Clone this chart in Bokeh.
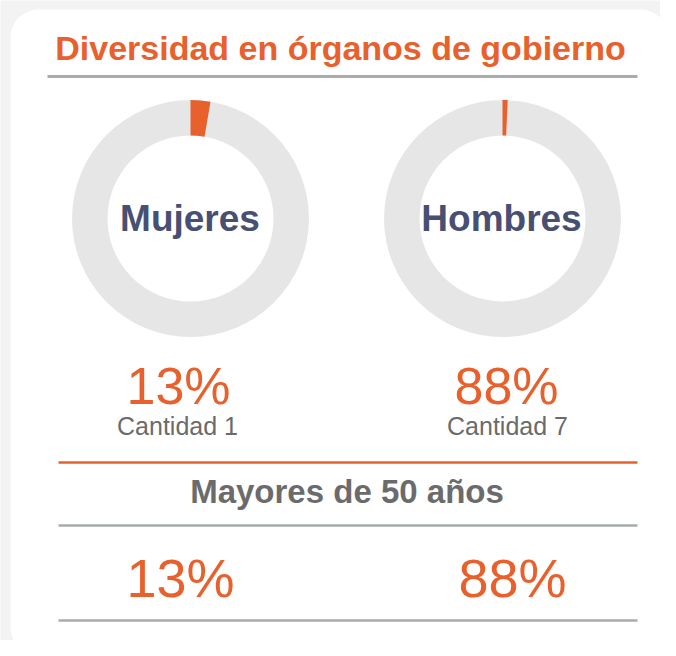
import math
from bokeh.plotting import figure
from bokeh.models import Range1d
from bokeh.embed import file_html
from bokeh.resources import INLINE
from bokeh.core.properties import value

# ---------------- data ----------------
title = "Diversidad en órganos de gobierno"
groups = ["Mujeres", "Hombres"]
share_pct = [13, 88]          # big percentage under each ring
counts = [1, 7]               # "Cantidad" under each percentage
ring_pct = [2.7, 0.7]         # orange slice drawn on each ring (% of full circle)
subtitle = "Mayores de 50 años"
over50_pct = [13, 88]

# ---------------- style ----------------
ORANGE = "#e8602c"
NAVY = "#474f72"
GREY_TXT = "#6b6b6b"
RULE = "#a9acac"
RING = "#e6e6e6"
FONT = "Liberation Sans"
BASE_K = 0.38   # compensation for how the svg backend places the alphabetic baseline

W, H = 660, 640


def sy(v):
    # picture row (from top) -> data y
    return H - v


def by(baseline, size):
    return sy(baseline - BASE_K * size)


p = figure(width=W, height=H, output_backend="svg", toolbar_location=None,
           x_range=Range1d(0, W), y_range=Range1d(0, H),
           min_border=0, min_border_left=0, min_border_right=0,
           min_border_top=0, min_border_bottom=0)
p.axis.visible = False
p.grid.visible = False
p.outline_line_color = None
p.background_fill_color = "#f3f3f3"
p.border_fill_color = "#f3f3f3"

# card
p.quad(left=[10], right=[668], top=[sy(9)], bottom=[sy(655)],
       fill_color="white", line_color=None, border_radius=28)

# title + rule
p.text(x=[340], y=[by(60, 34)], text=[title], text_font=value(FONT),
       text_font_style="bold", text_font_size=value("34px"),
       text_color=ORANGE, text_align="center", text_baseline="alphabetic")
p.segment(x0=[47], y0=[sy(76)], x1=[637], y1=[sy(76)], line_color=RULE, line_width=3)

# rings
cx = [190, 502]
cy = [sy(218)] * 2
R_IN, R_OUT = 83, 118.5
p.annulus(x=cx, y=cy, inner_radius=R_IN, outer_radius=R_OUT,
          fill_color=RING, line_color=None)
start = [math.pi / 2 - 2 * math.pi * v / 100 for v in ring_pct]
end = [math.pi / 2] * len(ring_pct)
p.annular_wedge(x=cx, y=cy, inner_radius=R_IN, outer_radius=R_OUT,
                start_angle=start, end_angle=end,
                fill_color=ORANGE, line_color=None)
p.text(x=[189.5, 501], y=[by(232.5, 37)] * 2, text=groups, text_font=value(FONT),
       text_font_style="bold", text_font_size=value("37px"), text_color=NAVY,
       text_align="center", text_baseline="alphabetic")

# percentages and counts
p.text(x=[178, 506], y=[by(405, 52)] * 2, text=[f"{v}%" for v in share_pct],
       text_font=value(FONT), text_font_size=value("52px"), text_color=ORANGE,
       text_align="center", text_baseline="alphabetic")
p.text(x=[177, 507], y=[by(435, 25)] * 2, text=[f"Cantidad {c}" for c in counts],
       text_font=value(FONT), text_font_size=value("25px"), text_color=GREY_TXT,
       text_align="center", text_baseline="alphabetic")

# section
p.segment(x0=[58], y0=[sy(462)], x1=[637], y1=[sy(462)], line_color=ORANGE, line_width=2.5)
p.text(x=[346.5], y=[by(504, 33)], text=[subtitle], text_font=value(FONT),
       text_font_style="bold", text_font_size=value("33px"), text_color=GREY_TXT,
       text_align="center", text_baseline="alphabetic")
p.segment(x0=[58, 58], y0=[sy(525), sy(620)], x1=[637, 637], y1=[sy(525), sy(620)],
          line_color=RULE, line_width=2.5)
p.text(x=[180, 512], y=[by(598, 54)] * 2, text=[f"{v}%" for v in over50_pct],
       text_font=value(FONT), text_font_size=value("54px"), text_color=ORANGE,
       text_align="center", text_baseline="alphabetic")

open("out.html", "w").write(file_html(p, INLINE))
